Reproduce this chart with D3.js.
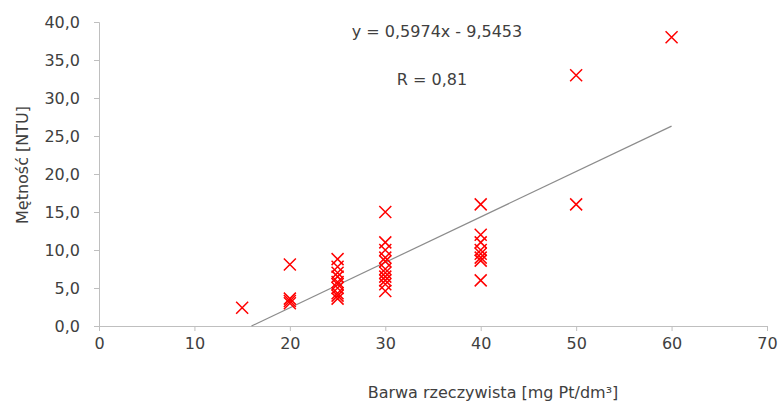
<!DOCTYPE html>
<html><head><meta charset="utf-8">
<script src="https://cdn.jsdelivr.net/npm/d3@7"></script>
<style>body{margin:0;background:#fff}svg{display:block}text{font-family:"DejaVu Sans",sans-serif;fill:#404040}</style>
</head><body><svg id="c" width="780" height="403"></svg>
<script>
const xTicks = [0,10,20,30,40,50,60,70];
const yTicks = [0,5,10,15,20,25,30,35,40];
const xVals = [15,
  20,20,20,20,
  25,25,25,25,25,25,25,25,25,25,
  30,30,30,30,30,30,30,30,30,30,30,
  40,40,40,40,40,40,40,40,
  50,50,
  60];
const yVals = [2.4,
  8.1,3.6,3.3,3.0,
  8.8,7.8,7.0,6.5,5.8,5.5,5.0,4.3,4.0,3.6,
  15.0,11.0,10.0,9.0,8.5,7.5,7.0,6.5,6.0,5.5,4.6,
  16.0,12.0,11.0,10.0,9.5,9.0,8.6,6.0,
  33.0,16.0,
  38.0];
const slope = 0.5974, intercept = -9.5453;
const eqText = "y = 0,5974x - 9,5453";
const rText = "R = 0,81";

const svg = d3.select("#c");
const x = d3.scaleLinear().domain([0,70]).range([99,767]);
const y = d3.scaleLinear().domain([0,40]).range([326,22]);
const axisColor = "#BFBFBF";
const fmt = v => d3.format(".1f")(v).replace(".", ",");

// y axis
const ya = svg.append("g").attr("transform","translate(99,0)")
  .call(d3.axisLeft(y).tickValues(yTicks).tickSize(5).tickPadding(14).tickFormat(fmt));
ya.select(".domain").attr("stroke",axisColor);
ya.selectAll(".tick line").attr("stroke",axisColor);
ya.selectAll(".tick text").style("font-size","16px").style("font-family","'DejaVu Sans',sans-serif").attr("fill","#404040");

// x axis
const xa = svg.append("g").attr("transform","translate(0,326)")
  .call(d3.axisBottom(x).tickValues(xTicks).tickSize(5).tickPadding(7).tickFormat(d3.format("d")));
xa.select(".domain").attr("stroke",axisColor);
xa.selectAll(".tick line").attr("stroke",axisColor);
xa.selectAll(".tick text").style("font-size","16px").style("font-family","'DejaVu Sans',sans-serif").attr("fill","#404040");

// trendline
const x0 = -intercept/slope, x1 = 60;
svg.append("line")
  .attr("x1",x(x0)).attr("y1",y(slope*x0+intercept))
  .attr("x2",x(x1)).attr("y2",y(slope*x1+intercept))
  .attr("stroke","#8C8C8C").attr("stroke-width",1.2);

// markers
const s = 6;
const pts = svg.append("g");
xVals.forEach((xv,i)=>{
  const cx = x(xv), cy = y(yVals[i]);
  pts.append("path")
    .attr("d",`M${cx-s},${cy-s}L${cx+s},${cy+s}M${cx-s},${cy+s}L${cx+s},${cy-s}`)
    .attr("stroke","#FF0000").attr("stroke-width",1.5).attr("fill","none");
});

// annotations
svg.append("text").attr("x",437).attr("y",37).attr("text-anchor","middle")
  .style("font-size","16px").text(eqText);
svg.append("text").attr("x",432).attr("y",85).attr("text-anchor","middle")
  .style("font-size","16px").text(rText);

// axis titles
svg.append("text").attr("x",493).attr("y",398).attr("text-anchor","middle")
  .style("font-size","16px").text("Barwa rzeczywista [mg Pt/dm³]");
svg.append("text").attr("transform","translate(28,165) rotate(-90)").attr("text-anchor","middle")
  .style("font-size","16px").text("Mętność [NTU]");
</script></body></html>
